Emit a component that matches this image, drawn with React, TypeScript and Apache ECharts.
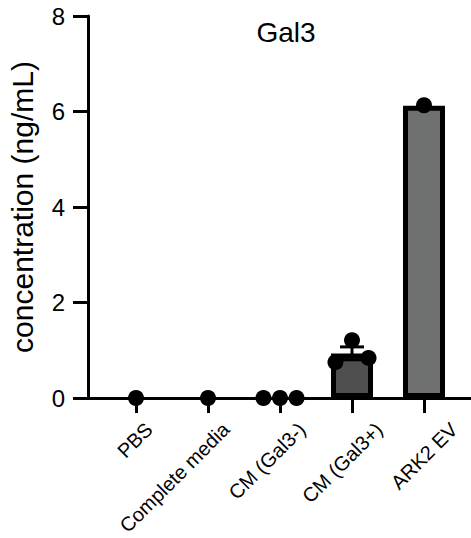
import React, { useEffect, useRef } from "react";
import * as echarts from "echarts";

// ---- data ----
const categories = ["PBS", "Complete media", "CM (Gal3-)", "CM (Gal3+)", "ARK2 EV"];
const pbsValues = [0];
const completeMediaValues = [0];
const cmGal3NegValues = [0, 0, 0];
const cmGal3PosValues = [0.75, 1.21, 0.84];
const ark2EvValues = [6.13];
const barMeans = [0, 0, 0, 0.93, 6.12];
const errorLow = [null, null, null, 0.8, null];
const errorHigh = [null, null, null, 1.07, null];
const titleText = "Gal3";
const yAxisTitle = "concentration (ng/mL)";

// ---- styles / layout ----
const barColors = ["#4f4f4f", "#4f4f4f", "#4f4f4f", "#4f4f4f", "#6e7170"];
const jitter3 = [-0.23, 0, 0.23];
const unitPx = 72;
const labelShiftPx = [13, 18, 22, 27, 30];
const FONT = "'Liberation Sans', Arial, Helvetica, sans-serif";

export default function App() {
  const ref = useRef<HTMLDivElement>(null);

  useEffect(() => {
    if (!ref.current) return;
    const chart = echarts.init(ref.current, undefined, { renderer: "svg" });

    const groups = [pbsValues, completeMediaValues, cmGal3NegValues, cmGal3PosValues, ark2EvValues];
    const points: number[][] = [];
    groups.forEach((vals, i) => {
      vals.forEach((v, k) => {
        const off = vals.length === 3 ? jitter3[k] : 0;
        points.push([i + off, v]);
      });
    });

    const barData = barMeans
      .map((m, i) => ({ value: [i, m], itemStyle: { color: barColors[i] } }))
      .filter((d) => d.value[1] > 0);

    const errData: number[][] = [];
    errorLow.forEach((lo, i) => {
      const hi = errorHigh[i];
      if (lo != null && hi != null) errData.push([i, lo, hi]);
    });

    const tickPositions = categories.map((_, i) => i);
    const labelPositions = categories.map((_, i) => i + labelShiftPx[i] / unitPx);

    const option: any = {
      animation: false,
      backgroundColor: "#ffffff",
      title: {
        text: titleText,
        left: 281,
        top: 13,
        textAlign: "center",
        textStyle: { fontFamily: FONT, fontSize: 28, fontWeight: "normal", color: "#000" },
      },
      grid: { left: 88, right: 0, top: 16, bottom: 140, containLabel: false, outerBoundsMode: "none" },
      xAxis: {
        type: "value",
        min: -0.6667,
        max: 4.6528,
        splitLine: { show: false },
        axisLine: { show: true, onZero: false, lineStyle: { color: "#000", width: 3 } },
        axisTick: {
          show: true,
          customValues: tickPositions,
          length: 15,
          lineStyle: { color: "#000", width: 3 },
        },
        axisLabel: {
          show: true,
          customValues: labelPositions,
          rotate: 45,
          margin: 28,
          fontFamily: FONT,
          fontSize: 20,
          color: "#000",
          hideOverlap: false,
          formatter: (v: number) => {
            const idx = labelPositions.findIndex((p) => Math.abs(p - v) < 1e-6);
            return idx >= 0 ? categories[idx] : "";
          },
        },
      },
      yAxis: {
        type: "value",
        min: 0,
        max: 8,
        interval: 2,
        name: yAxisTitle,
        nameLocation: "middle",
        nameRotate: 90,
        nameGap: 51,
        nameTextStyle: { fontFamily: FONT, fontSize: 30, color: "#000" },
        splitLine: { show: false },
        axisLine: { show: true, onZero: false, lineStyle: { color: "#000", width: 3 } },
        axisTick: { show: true, length: 15, lineStyle: { color: "#000", width: 3 } },
        axisLabel: {
          margin: 23,
          fontFamily: FONT,
          fontSize: 24,
          color: "#000",
        },
      },
      series: [
        {
          type: "bar",
          data: barData,
          barWidth: 42,
          z: 2,
          itemStyle: { borderColor: "#000", borderWidth: 5, opacity: 1 },
        },
        {
          type: "custom",
          z: 3,
          data: errData,
          encode: { x: 0, y: [1, 2] },
          renderItem: (params: any, api: any) => {
            const x = api.value(0);
            const lo = api.coord([x, api.value(1)]);
            const hi = api.coord([x, api.value(2)]);
            const half = 12;
            const style = { stroke: "#000", lineWidth: 3 };
            return {
              type: "group",
              children: [
                { type: "line", shape: { x1: lo[0], y1: lo[1], x2: hi[0], y2: hi[1] }, style },
                { type: "line", shape: { x1: hi[0] - half, y1: hi[1], x2: hi[0] + half, y2: hi[1] }, style },
                { type: "line", shape: { x1: lo[0] - half, y1: lo[1], x2: lo[0] + half, y2: lo[1] }, style },
              ],
            };
          },
        },
        {
          type: "scatter",
          z: 4,
          data: points,
          symbol: "circle",
          symbolSize: 16,
          itemStyle: { color: "#000", opacity: 1 },
        },
      ],
    };

    chart.setOption(option);
    return () => chart.dispose();
  }, []);

  return (
    <div
      ref={ref}
      style={{ position: "fixed", left: 0, top: 0, width: 471, height: 538, background: "#fff" }}
    />
  );
}
